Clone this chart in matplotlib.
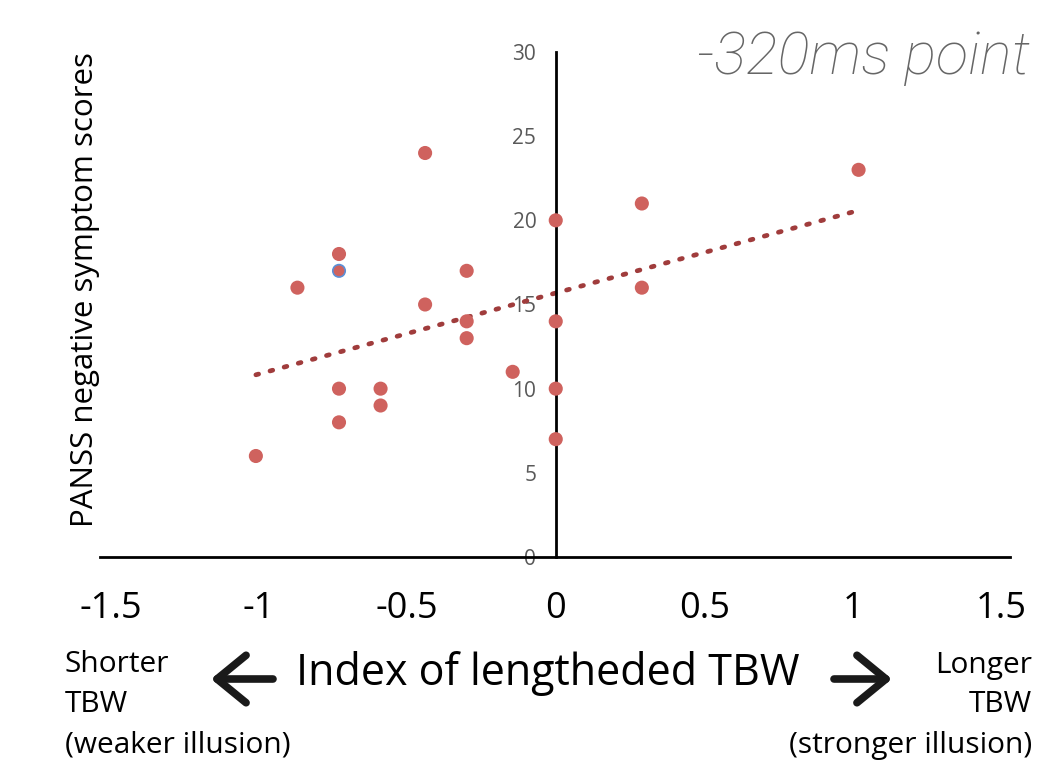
import numpy as np
import matplotlib
matplotlib.use("Agg")
import matplotlib.pyplot as plt

# data
tbw_index = [-1.01, -0.87, -0.73, -0.73, -0.73, -0.73, -0.59, -0.59, -0.44, -0.44,
             -0.30, -0.30, -0.30, -0.145, 0.0, 0.0, 0.0, 0.0, 0.29, 0.29, 1.02]
panss_neg = [6, 16, 18, 17, 10, 8, 10, 9, 24, 15,
             17, 14, 13, 11, 20, 14, 10, 7, 21, 16, 23]
highlighted = 3  # one point has a blue outline
xticks = [-1.5, -1, -0.5, 0, 0.5, 1, 1.5]
xtick_labels = ["-1.5", "-1", "-0.5", "0", "0.5", "1", "1.5"]
yticks = [0, 5, 10, 15, 20, 25, 30]
left_note = ["Shorter", "TBW", "(weaker illusion)"]
right_note = ["Longer", "TBW", "(stronger illusion)"]

dot_col = "#CF625E"
trend_col = "#A03C3C"

fig = plt.figure(figsize=(10.37, 7.67), dpi=100)
ax = fig.add_axes([100 / 1037, 1 - 557 / 767, 910 / 1037, 505 / 767])

x = np.array(tbw_index)
y = np.array(panss_neg)

edges = [dot_col] * len(x)
edges[highlighted] = "#5B8FD6"
ax.scatter(x, y, s=80, c=dot_col, edgecolors=edges, linewidths=1.2, zorder=3)

# linear trend line over the data range
b1, b0 = np.polyfit(x, y, 1)
xs = np.array([x.min(), x.max()])
ax.plot(xs, b0 + b1 * xs, color=trend_col, lw=3.4, ls=(0, (0.6, 2.5)),
        dash_capstyle="round", zorder=2)

ax.set_xlim(-1.535, 1.53)
ax.set_ylim(0, 30)

for s in ["top", "right"]:
    ax.spines[s].set_visible(False)
ax.spines["left"].set_position(("data", 0))
ax.spines["left"].set_linewidth(2)
ax.spines["bottom"].set_linewidth(2)

ax.set_yticks(yticks)
ax.set_yticklabels([str(v) for v in yticks], color="#595959", fontsize=15,
                   family="Open Sans")
ax.tick_params(axis="y", length=0, pad=14)
ax.set_xticks([])

# x tick labels drawn below the axes
for v, lab in zip(xticks, xtick_labels):
    ax.text(v, -3.1, lab, ha="center", va="center", fontsize=26,
            family="Open Sans")

fig.text(85 / 1037, 1 - 290 / 767, "PANSS negative symptom scores", rotation=90,
         ha="center", va="center", fontsize=22.5, family="Open Sans")

fig.text(1030 / 1037, 1 - 58 / 767, "-320ms point", ha="right", va="center",
         fontsize=43, style="italic", weight="light", color="#666666",
         family="Roboto")

fig.text(548 / 1037, 1 - 674 / 767, "Index of lengtheded TBW", ha="center",
         va="center", fontsize=31, family="Open Sans")

# thick chevron arrows either side of the axis title
ya = 1 - 679 / 767
arrow_kw = dict(arrowstyle="->,head_length=0.55,head_width=0.45", lw=5.5,
                color="#1a1a1a", mutation_scale=38, shrinkA=0, shrinkB=0)
ax.annotate("", xy=(211 / 1037, ya), xytext=(273 / 1037, ya),
            xycoords="figure fraction", textcoords="figure fraction",
            arrowprops=arrow_kw)
ax.annotate("", xy=(892 / 1037, ya), xytext=(834 / 1037, ya),
            xycoords="figure fraction", textcoords="figure fraction",
            arrowprops=arrow_kw)

for i, (lt, rt) in enumerate(zip(left_note, right_note)):
    yy = 1 - (665 + 40 * i) / 767
    fig.text(65 / 1037, yy, lt, ha="left", va="center", fontsize=21.5,
             family="Open Sans")
    fig.text(1032 / 1037, yy, rt, ha="right", va="center", fontsize=21.5,
             family="Open Sans")

fig.savefig("out.png", dpi=100)
